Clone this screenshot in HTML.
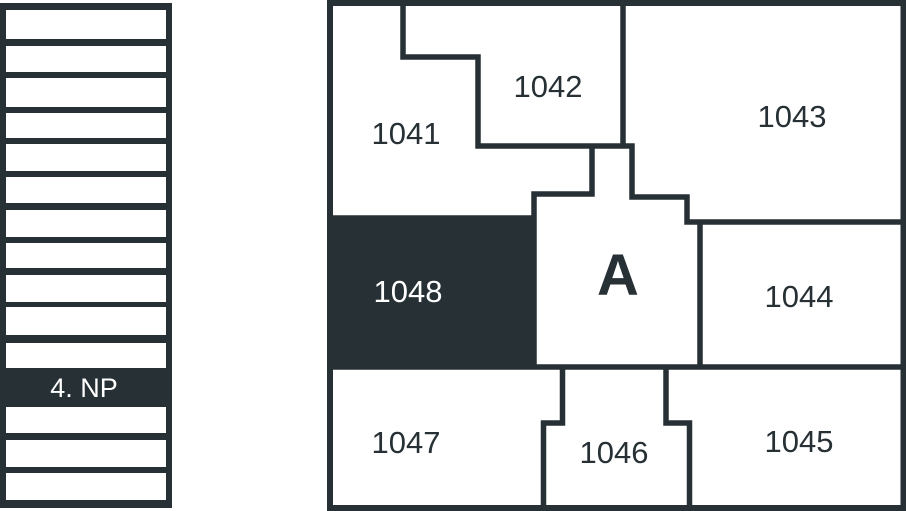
<!DOCTYPE html>
<html><head><style>
html,body{margin:0;padding:0;background:#fff;width:906px;height:511px;overflow:hidden}
svg{display:block}
text{font-family:"Liberation Sans",sans-serif;fill:#263035}
</style></head><body>
<svg width="906" height="511" viewBox="0 0 906 511">
<rect x="0" y="3" width="172" height="505" fill="#263035"/>
<g fill="#fff">
<rect x="6" y="10" width="160" height="29"/>
<rect x="6" y="46" width="160" height="26"/>
<rect x="6" y="78" width="160" height="29"/>
<rect x="6" y="113" width="160" height="25"/>
<rect x="6" y="144" width="160" height="27"/>
<rect x="6" y="177" width="160" height="26"/>
<rect x="6" y="210" width="160" height="27"/>
<rect x="6" y="243" width="160" height="25"/>
<rect x="6" y="275" width="160" height="27"/>
<rect x="6" y="307" width="160" height="28"/>
<rect x="6" y="343" width="160" height="25"/>
<rect x="6" y="407" width="160" height="26"/>
<rect x="6" y="440" width="160" height="27"/>
<rect x="6" y="473" width="160" height="27"/>
</g>
<text x="84" y="397" font-size="27" text-anchor="middle" style="fill:#fff">4. NP</text>
<rect x="330" y="218" width="204" height="149" fill="#263035"/>
<g fill="none" stroke="#263035" stroke-width="5.5" stroke-linejoin="miter">
<rect x="330" y="3" width="573.5" height="505" stroke-width="6"/>
<polyline points="403,3 403,57 478,57 478,146 632,146 632,197 687,197 687,222 903,222"/>
<line x1="623" y1="3" x2="623" y2="146"/>
<polyline points="592,146 592,194 534,194 534,367"/>
<line x1="330" y1="218" x2="534" y2="218"/>
<line x1="700" y1="222" x2="700" y2="367"/>
<line x1="330" y1="367" x2="903" y2="367"/>
<polyline points="562.5,367 562.5,423 543.5,423 543.5,508"/>
<polyline points="666,367 666,423 689.5,423 689.5,508"/>
</g>
<g font-size="31" text-anchor="middle">
<text x="406" y="144">1041</text>
<text x="548" y="97">1042</text>
<text x="792" y="127">1043</text>
<text x="408" y="302" style="fill:#fff">1048</text>
<text x="799" y="307">1044</text>
<text x="406" y="453">1047</text>
<text x="614" y="463">1046</text>
<text x="799" y="452">1045</text>
</g>
<text x="618" y="295" font-size="58" font-weight="bold" text-anchor="middle">A</text>
</svg>
</body></html>
